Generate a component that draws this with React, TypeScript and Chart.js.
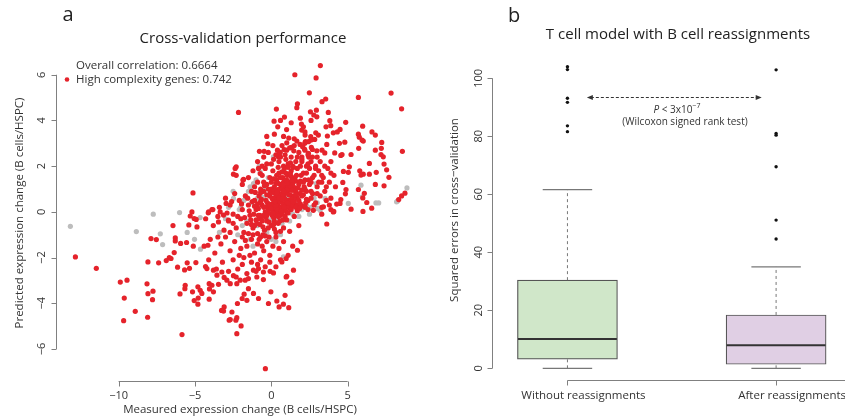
import React, { useEffect, useRef } from "react";
import { Chart, registerables } from "chart.js";
Chart.register(...registerables);

// ---------- Panel a data ----------
const redPoints: [number, number][] = [
  [1.54,6.0],[2.49,5.21],[-2.15,4.35],[1.71,4.73],[1.67,4.56],[0.33,4.5],[2.56,4.38],[0.18,3.97],[0.42,3.72],[0.86,4.15],
  [2.95,4.45],[2.98,4.16],[1.97,3.84],[2.10,3.72],[1.99,3.58],[1.14,3.23],[1.01,3.02],[1.67,3.10],[1.32,2.82],[0.84,2.73],
  [0.58,2.60],[1.47,2.67],[1.88,2.95],[2.23,3.08],[2.58,3.29],[2.84,3.17],[2.62,2.82],[2.43,2.56],[2.17,2.75],[-0.23,2.98],
  [-0.47,2.65],[-0.78,2.65],[0.46,2.41],
  [3.21,6.40],[2.93,5.86],[5.70,5.01],[7.84,5.2],[8.53,4.51],[3.32,4.82],[3.56,4.94],[2.78,4.24],[3.73,4.35],[3.83,3.99],
  [3.89,3.77],[4.87,3.92],[3.58,3.72],[2.91,3.46],[3.08,3.36],[2.21,3.36],[2.60,3.14],[2.43,3.07],[2.19,3.0],[3.67,3.32],
  [4.06,3.46],[4.32,3.5],[4.50,3.61],[4.46,3.0],[4.81,3.05],[3.63,2.95],[5.70,3.40],[5.76,3.27],[6.02,3.10],[5.94,3.14],
  [5.72,2.78],[5.98,3.75],[6.59,3.5],[6.81,3.36],[7.23,3.04],[7.20,2.78],[7.18,2.51],[6.81,2.70],[8.58,2.65],[2.69,2.73],
  [2.98,2.67],[3.32,2.70],[3.50,2.58],[4.15,2.58],[4.55,2.47],[5.22,2.51],[4.63,2.51],[2.45,2.4],[2.0,2.4],[2.69,2.4],[3.0,2.4],
  [5.11,1.97],[4.72,1.77],[5.04,1.73],[5.79,1.80],[6.02,1.65],[6.42,1.65],[6.87,1.73],[6.42,2.12],[7.38,2.09],[7.55,1.84],
  [7.70,1.51],[7.38,1.14],[6.81,1.20],[5.87,1.61],[4.68,1.29],[4.89,0.98],[4.85,0.79],[5.70,0.98],[6.09,0.81],[6.25,0.41],
  [5.99,0.61],[4.55,0.54],[4.28,0.34],[4.09,0.02],[5.22,0.12],[6.00,0.02],[6.57,0.16],[3.63,-0.53],[8.75,0.82],[8.53,0.70],
  [8.34,0.54],[7.33,2.41],
  [2.0,2.2],[2.3,2.0],[2.6,2.2],[2.9,2.0],[3.2,2.2],[3.5,2.0],[3.9,2.2],[2.1,1.7],[2.5,1.9],[2.8,1.6],[3.1,1.8],[3.4,1.5],
  [3.7,1.9],[4.1,1.6],[2.2,1.4],[2.6,1.3],[3.0,1.1],[3.3,1.3],[3.8,1.3],[4.2,1.1],[2.3,0.9],[2.7,0.8],[3.2,0.7],[3.5,0.9],
  [3.9,0.6],[2.4,0.5],[2.9,0.4],[3.3,-0.1],[3.8,0.3],[2.2,0.2],
  [-12.83,-1.97],[-11.46,-2.47],[-9.89,-3.07],[-9.45,-2.99],[-9.63,-3.77],[-9.67,-4.76],[-8.91,-4.35],[-8.10,-4.61],[-8.14,-3.15],
  [-8.08,-3.58],[-7.75,-3.47],[-7.78,-3.84],[-8.08,-2.19],[-7.38,-2.23],[-6.88,-2.13],[-6.68,-2.0],[-6.57,-2.04],[-6.36,-1.78],
  [-7.88,-1.17],[-7.53,-1.21],[-6.44,-0.60],[-6.29,-1.14],[-6.29,-1.27],[-5.94,-1.38],[-5.55,-1.34],[-5.40,-0.57],[-4.87,-0.66],
  [-5.31,-0.18],[-5.20,0.0],[-5.05,-0.29],[-4.92,-0.33],[-4.13,-0.04],[-5.11,-1.50],[-4.15,-1.46],[-6.14,-2.42],[-5.68,-2.54],
  [-5.36,-2.47],[-5.51,-2.23],[-4.94,-2.22],[-4.31,-2.39],[-5.64,-3.21],[-5.66,-3.36],[-5.98,-3.59],[-5.16,-3.50],[-4.81,-3.28],
  [-4.07,-3.14],[-5.05,-3.88],[-4.81,-4.04],[-4.07,-3.82],
  [-5.85,-5.37],[-0.39,-6.86],[-2.26,-5.33],[-2.32,-4.74],[-2.76,-4.74],[-2.26,-4.63],[-1.98,-4.99],[-3.26,-4.31],[-3.09,-4.16],
  [-2.58,-4.38],[-2.22,-4.01],[-1.50,-3.36],[-1.17,-3.57],[-0.84,-3.79],[-1.78,-3.60],[-1.91,-3.79],[-1.60,-3.87],[-0.19,-4.01],
  [0.36,-3.90],[0.51,-4.16],[0.79,-4.04],[1.14,-4.19],[-0.03,-3.50],[0.90,-3.65],[-3.89,-3.21],[-4.05,-3.37],[-3.79,-3.50],
  [-3.46,-3.17],[-4.66,-3.43],[-4.55,-3.57],[-4.79,-3.77],[-3.09,-2.87],[-2.91,-2.99],[-2.69,-3.14],[-3.24,-2.63],[-3.56,-2.77],
  [-3.79,-2.55],[-4.22,-2.48],[-2.04,-2.99],[-1.71,-2.99],[-1.50,-2.92],[-2.26,-3.14],[-2.48,-2.79],[-1.17,-2.55],[-0.84,-2.48],
  [-0.52,-2.63],[-0.95,-2.85],[-0.52,-2.96],[-0.08,-2.60],[0.14,-2.67],[1.01,-2.82],[1.34,-3.07],[0.69,-2.19],[0.97,-2.04],
  [-2.69,-4.71],[-3.13,-4.34],[1.23,-3.11],[1.95,-1.31],[1.71,-1.68],[1.45,-2.55],[0.97,-2.85],
  [-2.48,1.65],[-1.82,1.42],[-2.30,1.97],[-0.84,1.90],[-0.73,1.68],[-2.96,0.37],[-3.35,0],[-4.11,0],[-3.83,0.1],[-3.13,-0.14],
  [-2.81,-0.36],[-3.46,-0.44],[-5.13,0.83],[-2.37,1.90],[-1.86,1.39],[-3.89,0.1],[4.06,0],[4.5,0.37],[3.41,0.22],[2.75,0.07],
  [-0.9,2.2],[-0.5,2.4],[-0.2,2.6],[0.1,2.9],[0.3,2.5],[0.5,2.2],[0.7,2.9],[0.9,2.5],[1.1,2.1],[1.3,2.4],[1.5,2.9],[1.6,2.2],
  [1.8,2.6],[2.0,2.3],[2.2,2.7],[0.0,2.1],[0.4,2.7],[0.8,2.0],[1.2,2.8],[-0.3,2.1],[2.4,2.1],[1.9,2.0],[0.6,2.4],[1.0,2.7],[1.4,2.0],
  [-2.3,1.6],[-1.9,1.2],[-1.5,1.5],[-1.2,1.8],[-0.9,1.3],[-0.6,1.6],[-0.4,1.9],[-0.3,1.2],[-0.1,1.5],[0.1,1.8],[0.2,1.1],[0.35,1.4],
  [0.5,1.7],[0.6,1.2],[0.75,1.5],[0.85,1.9],[0.95,1.1],[1.05,1.6],[1.2,1.3],[1.3,1.8],[1.45,1.1],[1.55,1.5],[1.7,1.9],[1.8,1.2],
  [1.95,1.6],[2.1,1.3],[2.3,1.7],[2.5,1.2],[2.7,1.5],[2.9,1.9],[3.1,1.3],[3.3,1.6],[3.6,1.1],[3.9,1.7],[0.0,1.0],[0.45,1.95],
  [1.1,1.95],[-0.7,1.0],[-1.1,1.1],[0.65,1.05],[1.6,1.0],[2.2,1.0],
  [-3.4,0.2],[-3.0,0.6],[-2.7,0.3],[-2.4,0.8],[-2.1,0.5],[-1.9,0.1],[-1.7,0.7],[-1.5,0.3],[-1.3,0.9],[-1.1,0.5],[-1.0,0.1],
  [-0.8,0.7],[-0.6,0.3],[-0.5,0.9],[-0.35,0.5],[-0.2,0.1],[-0.1,0.7],[0.05,0.35],[0.15,0.85],[0.25,0.1],[0.35,0.55],[0.45,0.25],
  [0.55,0.8],[0.65,0.45],[0.75,0.1],[0.85,0.6],[0.95,0.3],[1.05,0.9],[1.15,0.5],[1.25,0.15],[1.35,0.7],[1.5,0.35],[1.6,0.85],
  [1.7,0.05],[1.8,0.5],[1.95,0.25],[2.1,0.75],[2.25,0.4],[2.4,0.1],[2.6,0.6],[2.8,0.3],[3.0,0.8],[3.3,0.2],[3.6,0.5],[3.9,0.1],
  [0.0,0.95],[0.5,0.0],[1.0,0.0],[-0.4,0.0],[1.4,0.95],[0.3,0.7],[0.8,0.35],[1.2,0.75],[-0.7,0.45],[2.0,0.95],[0.1,0.55],
  [0.6,0.6],[0.9,0.8],[1.1,0.2],[1.7,0.6],[-0.25,0.4],[0.4,0.95],
  [-4.3,-0.3],[-3.8,-0.6],[-3.5,-0.2],[-3.1,-0.8],[-2.8,-0.4],[-2.5,-0.1],[-2.3,-0.7],[-2.0,-0.3],[-1.8,-0.9],[-1.6,-0.5],
  [-1.4,-0.15],[-1.2,-0.7],[-1.0,-0.35],[-0.9,-0.95],[-0.75,-0.55],[-0.6,-0.2],[-0.45,-0.8],[-0.3,-0.4],[-0.15,-0.05],[0.0,-0.6],
  [0.15,-0.25],[0.3,-0.9],[0.45,-0.5],[0.6,-0.15],[0.8,-0.7],[1.0,-0.35],[1.2,-0.85],[1.5,-0.2],[1.8,-0.6],[-1.5,-0.95],
  [-0.5,-0.15],[0.25,-0.05],[-2.7,-0.9],[-1.1,-0.6],[-0.2,-0.7],[0.6,-0.85],[-0.8,-0.3],
  [-4.4,-1.5],[-4.0,-1.2],[-3.7,-1.8],[-3.3,-1.4],[-3.0,-1.1],[-2.7,-1.7],[-2.4,-1.3],[-2.1,-1.9],[-1.9,-1.1],[-1.6,-1.5],
  [-1.3,-1.2],[-1.1,-1.8],[-0.9,-1.4],[-0.7,-1.1],[-0.5,-1.7],[-0.3,-1.3],[-0.1,-1.9],[0.1,-1.5],[0.3,-1.1],[0.5,-1.6],
  [0.8,-1.3],[1.1,-1.9],[1.4,-1.5],[-2.0,-1.6],[-1.4,-1.9],[-0.6,-1.5],[-3.5,-1.1],
  [-4.1,-2.1],[-3.6,-2.5],[-3.2,-2.2],[-2.8,-2.6],[-2.5,-2.1],[-2.2,-2.5],[-1.9,-2.3],[-1.6,-2.7],[-1.3,-2.2],[-1.0,-2.6],
  [-0.7,-2.1],[-0.4,-2.4],[-0.1,-2.2],[0.3,-2.4],[0.6,-2.1],[-1.8,-2.0],[-0.9,-2.3],[-2.3,-2.85],
  [-1.45,0.05],[-1.25,0.45],[-1.05,0.85],[-0.85,0.15],[-0.65,0.55],[-0.45,1.15],[-0.25,0.25],[-0.05,0.85],[0.1,0.15],[0.2,0.6],
  [0.3,1.25],[0.4,0.4],[0.5,1.0],[0.6,0.2],[0.7,0.75],[0.8,1.3],[0.9,0.1],[1.0,0.5],[1.1,1.1],[1.2,0.35],[1.3,0.95],[1.4,0.25],
  [1.5,0.65],[1.6,1.35],[1.7,0.3],[1.85,0.8],[-1.35,-0.35],[-1.15,-0.1],[-0.95,-0.5],[-0.75,-0.15],[-0.55,-0.65],[-0.35,-0.25],
  [-0.15,-0.45],[0.05,-0.15],[0.2,-0.4],[0.35,-0.1],[0.55,-0.4],[0.7,-0.05],[0.9,-0.2],[1.1,-0.05],[-2.2,-0.2],[-1.95,0.35],
  [-1.75,-0.25],[-1.55,0.6],[-2.6,0.45],[-2.9,-0.05],[-1.2,-1.0],[-0.8,-1.2],[-0.4,-1.05],[0.2,-0.75],[-1.7,-1.25],[-2.5,-0.5],
  [0.0,1.3],[-0.5,1.3],[0.35,1.6],[0.7,1.75],[1.0,1.4],[1.3,1.55],[0.15,2.3],[0.55,2.6],[0.95,2.3],[1.25,2.15],[-0.6,2.0],
  [1.7,2.4],[2.05,2.85],[2.4,2.5],[1.5,3.2],[0.8,3.3],[0.2,3.4],[2.2,3.5],[1.0,3.6],[-0.3,3.3],[0.6,4.0],[1.9,4.1],[2.6,4.0],[1.3,3.9],
  [-0.9,0.35],[-0.7,0.85],[-0.5,0.2],[-0.3,0.75],[-0.1,0.3],[0.05,0.6],[0.2,0.9],[0.3,0.3],[0.45,0.7],[0.55,0.45],[0.7,1.0],
  [0.75,0.3],[0.9,0.55],[1.0,0.95],[1.1,0.4],[1.2,1.15],[1.3,0.55],[1.4,1.25],[1.5,0.45],[1.6,0.75],[1.75,1.05],[1.9,0.35],
  [2.0,0.7],[2.15,1.1],[2.3,0.55],[0.1,-0.05],[0.4,0.1],[0.65,0.05],[0.85,0.2],[1.3,0.1],[1.6,0.2],[-0.6,-0.4],[-0.3,-0.15],
  [0.0,0.15],[0.25,0.45],[0.5,0.6],[0.8,0.9],[1.05,1.25],[1.35,1.4],[1.65,1.6],[0.15,1.45],[0.45,1.25],[0.75,1.2],[0.95,1.7],
  [1.25,1.7],[1.45,1.95],[0.6,1.5],[-0.2,1.0],[-0.85,-0.15],[-1.1,0.25],[-1.3,-0.55],[-0.55,-1.0],[-0.15,-1.1],[0.15,-0.55],
  [0.45,-0.2],[0.75,-0.35],[1.4,0.45],[1.85,0.15],[2.2,0.25],[2.6,0.9],[2.45,1.4],[1.9,1.35],[0.35,0.85],[0.7,0.55],[1.15,0.75]
];

const grayPoints: [number, number][] = [
  [-13.16,-0.63],[-7.73,-0.10],[-6.01,-0.03],[-8.84,-0.86],[-7.27,-0.96],[-7.12,-1.43],[-5.51,-0.90],[-5.03,-1.20],[-4.66,-0.25],
  [-4.64,-1.63],[5.87,1.17],[5.04,0.37],[6.85,0.39],[7.03,0.39],[8.27,0.48],[8.88,1.05],[5.96,0.66],[2.75,0.78],[3.02,0.15],
  [3.19,0.07],[2.93,1.24],[3.52,0.59],[-2.48,0.59],[-1.39,1.10],[-1.17,1.24],[-1.28,0.88],[-0.62,0.66],[0.25,0.37],[-0.08,0.15],
  [0.36,-0.07],[0.14,2.41],[-0.73,1.75],[8.2,0.44],[0.79,-1.97],
  [-2.0,0.2],[-1.6,-0.4],[-1.3,0.4],[-0.9,-0.6],[-0.5,0.6],[-0.3,-0.9],[0.2,0.2],[0.5,-0.3],[1.0,0.6],[1.4,-0.1],[2.0,0.1],
  [2.5,-0.1],[-1.0,1.4],[-0.4,1.0],[0.0,-1.2],[-2.5,0.9],[-3.0,-0.3],[-2.2,-1.0],[-1.2,-1.5],[1.8,-0.2],[2.3,0.3],[-0.8,2.0],
  [0.6,-1.0],[-0.2,1.5],[1.2,-0.4],
  [-2.8,0.2],[-1.9,-0.6],[-1.5,0.9],[-0.1,-0.35],[0.7,-0.5],[1.6,0.45],[2.8,0.6],[-3.4,-0.9],[-2.1,0.1],[-1.8,0.5],[-0.9,0.6],
  [-1.4,-1.2],[0.3,-1.3],[3.0,0.4],[2.6,0.2]
];

const xTicksA = [-10, -5, 0, 5];
const yTicksA = [-6, -4, -2, 0, 2, 4, 6];

// ---------- Panel b data ----------
const boxCategories = ["Without reassignments", "After reassignments"];
const boxPositions = [1, 2];
const boxQ1 = [3.2, 1.4];
const boxMedian = [10.1, 8.0];
const boxQ3 = [30.4, 18.4];
const boxLow = [0, 0];
const boxHigh = [61.6, 35.0];
const boxOutliers = [
  [104, 103, 93.1, 91.7, 83.6, 81.6],
  [102.9, 81.0, 80.4, 69.5, 51.1, 44.6]
];
const yTicksB = [0, 20, 40, 60, 80, 100];

const FONT = "'Open Sans', 'Noto Sans', sans-serif";
const RED = "#e5232b";
const GRAY = "#bdbdbd";
const TEXT = "#333333";
const AXIS = "#808080";

const fmt = (v: number) => (v < 0 ? "\u2212" + Math.abs(v) : String(v));

const axesA = {
  id: "axesA",
  afterDraw(chart: any) {
    const { ctx, chartArea, scales } = chart;
    const x = scales.x, y = scales.y;
    ctx.save();
    ctx.strokeStyle = AXIS;
    ctx.lineWidth = 1;
    const ax = Math.round(chartArea.left) + 0.5;
    const ay = Math.round(chartArea.bottom) + 0.5;
    ctx.beginPath();
    ctx.moveTo(ax, y.getPixelForValue(yTicksA[0]));
    ctx.lineTo(ax, y.getPixelForValue(yTicksA[yTicksA.length - 1]));
    yTicksA.forEach((t) => {
      const p = Math.round(y.getPixelForValue(t)) + 0.5;
      ctx.moveTo(ax, p);
      ctx.lineTo(ax - 5, p);
    });
    ctx.moveTo(x.getPixelForValue(xTicksA[0]), ay);
    ctx.lineTo(x.getPixelForValue(xTicksA[xTicksA.length - 1]), ay);
    xTicksA.forEach((t) => {
      const p = Math.round(x.getPixelForValue(t)) + 0.5;
      ctx.moveTo(p, ay);
      ctx.lineTo(p, ay + 5);
    });
    ctx.stroke();

    ctx.fillStyle = TEXT;
    ctx.font = `11px ${FONT}`;
    ctx.textAlign = "center";
    ctx.textBaseline = "middle";
    yTicksA.forEach((t) => {
      ctx.save();
      ctx.translate(ax - 15, y.getPixelForValue(t));
      ctx.rotate(-Math.PI / 2);
      ctx.fillText(fmt(t), 0, 0);
      ctx.restore();
    });
    xTicksA.forEach((t) => {
      ctx.fillText(fmt(t), x.getPixelForValue(t), ay + 14);
    });

    ctx.font = `11.5px ${FONT}`;
    ctx.fillText("Measured expression change (B cells/HSPC)", 240, 410);
    ctx.save();
    ctx.translate(20, 213);
    ctx.rotate(-Math.PI / 2);
    ctx.fillText("Predicted expression change (B cells/HSPC)", 0, 0);
    ctx.restore();

    ctx.font = `15px ${FONT}`;
    ctx.fillStyle = "#222";
    ctx.fillText("Cross-validation performance", 243, 39);
    ctx.font = `20px ${FONT}`;
    ctx.fillText("a", 68, 15);

    ctx.font = `11.5px ${FONT}`;
    ctx.textAlign = "left";
    ctx.fillStyle = TEXT;
    ctx.fillText("Overall correlation: 0.6664", 76, 66);
    ctx.fillText("High complexity genes: 0.742", 76, 79.5);
    ctx.fillStyle = RED;
    ctx.beginPath();
    ctx.arc(67, 79.5, 2.3, 0, Math.PI * 2);
    ctx.fill();
    ctx.restore();
  },
};

const OFFB = 425;
const axesB = {
  id: "axesB",
  afterDraw(chart: any) {
    const { ctx, chartArea, scales } = chart;
    const x = scales.x, y = scales.y;
    ctx.save();
    ctx.strokeStyle = AXIS;
    ctx.lineWidth = 1;
    const ax = Math.round(chartArea.left) + 0.5;
    const ay = Math.round(chartArea.bottom) + 0.5;
    ctx.beginPath();
    ctx.moveTo(ax, y.getPixelForValue(yTicksB[0]));
    ctx.lineTo(ax, y.getPixelForValue(yTicksB[yTicksB.length - 1]));
    yTicksB.forEach((t) => {
      const p = Math.round(y.getPixelForValue(t)) + 0.5;
      ctx.moveTo(ax, p);
      ctx.lineTo(ax - 5, p);
    });
    ctx.moveTo(x.getPixelForValue(boxPositions[0]), ay);
    ctx.lineTo(chart.width, ay);
    boxPositions.forEach((t) => {
      const p = Math.round(x.getPixelForValue(t)) + 0.5;
      ctx.moveTo(p, ay);
      ctx.lineTo(p, ay + 5);
    });
    ctx.stroke();

    ctx.fillStyle = TEXT;
    ctx.font = `11px ${FONT}`;
    ctx.textAlign = "center";
    ctx.textBaseline = "middle";
    yTicksB.forEach((t) => {
      ctx.save();
      ctx.translate(ax - 14, y.getPixelForValue(t));
      ctx.rotate(-Math.PI / 2);
      ctx.fillText(fmt(t), 0, 0);
      ctx.restore();
    });
    ctx.font = `11.5px ${FONT}`;
    boxCategories.forEach((c, i) => {
      ctx.fillText(c, x.getPixelForValue(boxPositions[i]) + 16, ay + 15);
    });
    ctx.save();
    ctx.translate(455 - OFFB, 210);
    ctx.rotate(-Math.PI / 2);
    ctx.fillText("Squared errors in cross\u2212validation", 0, 0);
    ctx.restore();

    ctx.font = `15px ${FONT}`;
    ctx.fillStyle = "#222";
    ctx.fillText("T cell model with B cell reassignments", 678 - OFFB, 35);
    ctx.font = `20px ${FONT}`;
    ctx.fillText("b", 514 - OFFB, 16);

    // significance arrow
    const x1 = x.getPixelForValue(1.093), x2 = x.getPixelForValue(1.931);
    const yy = Math.round(y.getPixelForValue(93.7)) + 0.5;
    ctx.strokeStyle = "#333";
    ctx.setLineDash([3, 2]);
    ctx.beginPath();
    ctx.moveTo(x1 + 4, yy);
    ctx.lineTo(x2 - 4, yy);
    ctx.stroke();
    ctx.setLineDash([]);
    ctx.fillStyle = "#333";
    ctx.beginPath();
    ctx.moveTo(x1, yy); ctx.lineTo(x1 + 6, yy - 2.5); ctx.lineTo(x1 + 6, yy + 2.5); ctx.closePath();
    ctx.moveTo(x2, yy); ctx.lineTo(x2 - 6, yy - 2.5); ctx.lineTo(x2 - 6, yy + 2.5); ctx.closePath();
    ctx.fill();

    // P-value text
    const cx = 677 - OFFB, ty = 110;
    ctx.fillStyle = TEXT;
    const f1 = `italic 10px ${FONT}`, f2 = `10px ${FONT}`, f3 = `7px ${FONT}`;
    ctx.font = f1; const w1 = ctx.measureText("P").width;
    ctx.font = f2; const s2 = " < 3x10"; const w2 = ctx.measureText(s2).width;
    ctx.font = f3; const s3 = "\u22127"; const w3 = ctx.measureText(s3).width;
    let sx = cx - (w1 + w2 + w3) / 2;
    ctx.textAlign = "left";
    ctx.font = f1; ctx.fillText("P", sx, ty); sx += w1;
    ctx.font = f2; ctx.fillText(s2, sx, ty); sx += w2;
    ctx.font = f3; ctx.fillText(s3, sx, ty - 4);
    ctx.font = `10px ${FONT}`;
    ctx.textAlign = "center";
    ctx.fillText("(Wilcoxon signed rank test)", 685 - OFFB, 122);
    ctx.restore();
  },
};

export default function App() {
  const refA = useRef<HTMLCanvasElement>(null);
  const refB = useRef<HTMLCanvasElement>(null);

  useEffect(() => {
    const chartA = new Chart(refA.current!, {
      type: "scatter",
      data: {
        datasets: [
          {
            label: "High complexity genes",
            data: redPoints.map(([x, y]) => ({ x, y })),
            backgroundColor: RED,
            borderWidth: 0,
            pointRadius: 2.6,
            order: 0,
          },
          {
            label: "Other genes",
            data: grayPoints.map(([x, y]) => ({ x, y })),
            backgroundColor: GRAY,
            borderWidth: 0,
            pointRadius: 2.6,
            order: 1,
          },
        ],
      },
      options: {
        responsive: false,
        animation: false,
        devicePixelRatio: 1,
        layout: { padding: { left: 56, right: 19, top: 53.5, bottom: 39 } },
        scales: {
          x: { type: "linear", min: -14.1, max: 9.8, display: false },
          y: { type: "linear", min: -7.4, max: 6.93, display: false },
        },
        plugins: { legend: { display: false }, tooltip: { enabled: false } },
      },
      plugins: [axesA],
    });

    const boxHalf = 0.237;
    const capHalf = 0.1185;
    const datasetsB: any[] = [];
    datasetsB.push({
      type: "bar",
      data: boxPositions.map((p, i) => ({ x: p, y: [boxQ1[i], boxQ3[i]] })),
      backgroundColor: ["#d0e7c9", "#e0cfe4"],
      borderColor: "#555555",
      borderWidth: 1.2,
      borderSkipped: false,
      barThickness: 100,
      order: 3,
    });
    boxPositions.forEach((p, i) => {
      datasetsB.push({
        type: "line",
        data: [{ x: p, y: boxQ3[i] }, { x: p, y: boxHigh[i] }],
        borderColor: "#777",
        borderWidth: 1,
        borderDash: [3, 3],
        pointRadius: 0,
        order: 2,
      });
      datasetsB.push({
        type: "line",
        data: [{ x: p, y: boxLow[i] }, { x: p, y: boxQ1[i] }],
        borderColor: "#777",
        borderWidth: 1,
        borderDash: [3, 3],
        pointRadius: 0,
        order: 2,
      });
      [boxLow[i], boxHigh[i]].forEach((v) => {
        datasetsB.push({
          type: "line",
          data: [{ x: p - capHalf, y: v }, { x: p + capHalf, y: v }],
          borderColor: "#777",
          borderWidth: 1.2,
          pointRadius: 0,
          order: 2,
        });
      });
      datasetsB.push({
        type: "line",
        data: [{ x: p - boxHalf, y: boxMedian[i] }, { x: p + boxHalf, y: boxMedian[i] }],
        borderColor: "#333",
        borderWidth: 2,
        pointRadius: 0,
        order: 1,
      });
    });
    datasetsB.push({
      type: "scatter",
      data: boxOutliers.flatMap((arr, i) => arr.map((v) => ({ x: boxPositions[i], y: v }))),
      backgroundColor: "#111",
      borderWidth: 0,
      pointRadius: 1.7,
      order: 0,
    });

    const chartB = new Chart(refB.current!, {
      type: "scatter",
      data: { datasets: datasetsB },
      options: {
        responsive: false,
        animation: false,
        devicePixelRatio: 1,
        layout: { padding: { left: 66.7, right: 0, top: 54.5, bottom: 39.6 } },
        scales: {
          x: { type: "linear", min: 0.637, max: 2.311, offset: false, display: false },
          y: { type: "linear", min: -4.16, max: 108.2, display: false },
        },
        plugins: { legend: { display: false }, tooltip: { enabled: false } },
      },
      plugins: [axesB],
    });

    return () => {
      chartA.destroy();
      chartB.destroy();
    };
  }, []);

  return (
    <div style={{ position: "absolute", left: 0, top: 0, width: 845, height: 420, background: "#fff", overflow: "hidden" }}>
      <canvas ref={refA} width={440} height={420} style={{ position: "absolute", left: 0, top: 0, width: 440, height: 420 }} />
      <canvas ref={refB} width={420} height={420} style={{ position: "absolute", left: OFFB, top: 0, width: 420, height: 420 }} />
    </div>
  );
}
